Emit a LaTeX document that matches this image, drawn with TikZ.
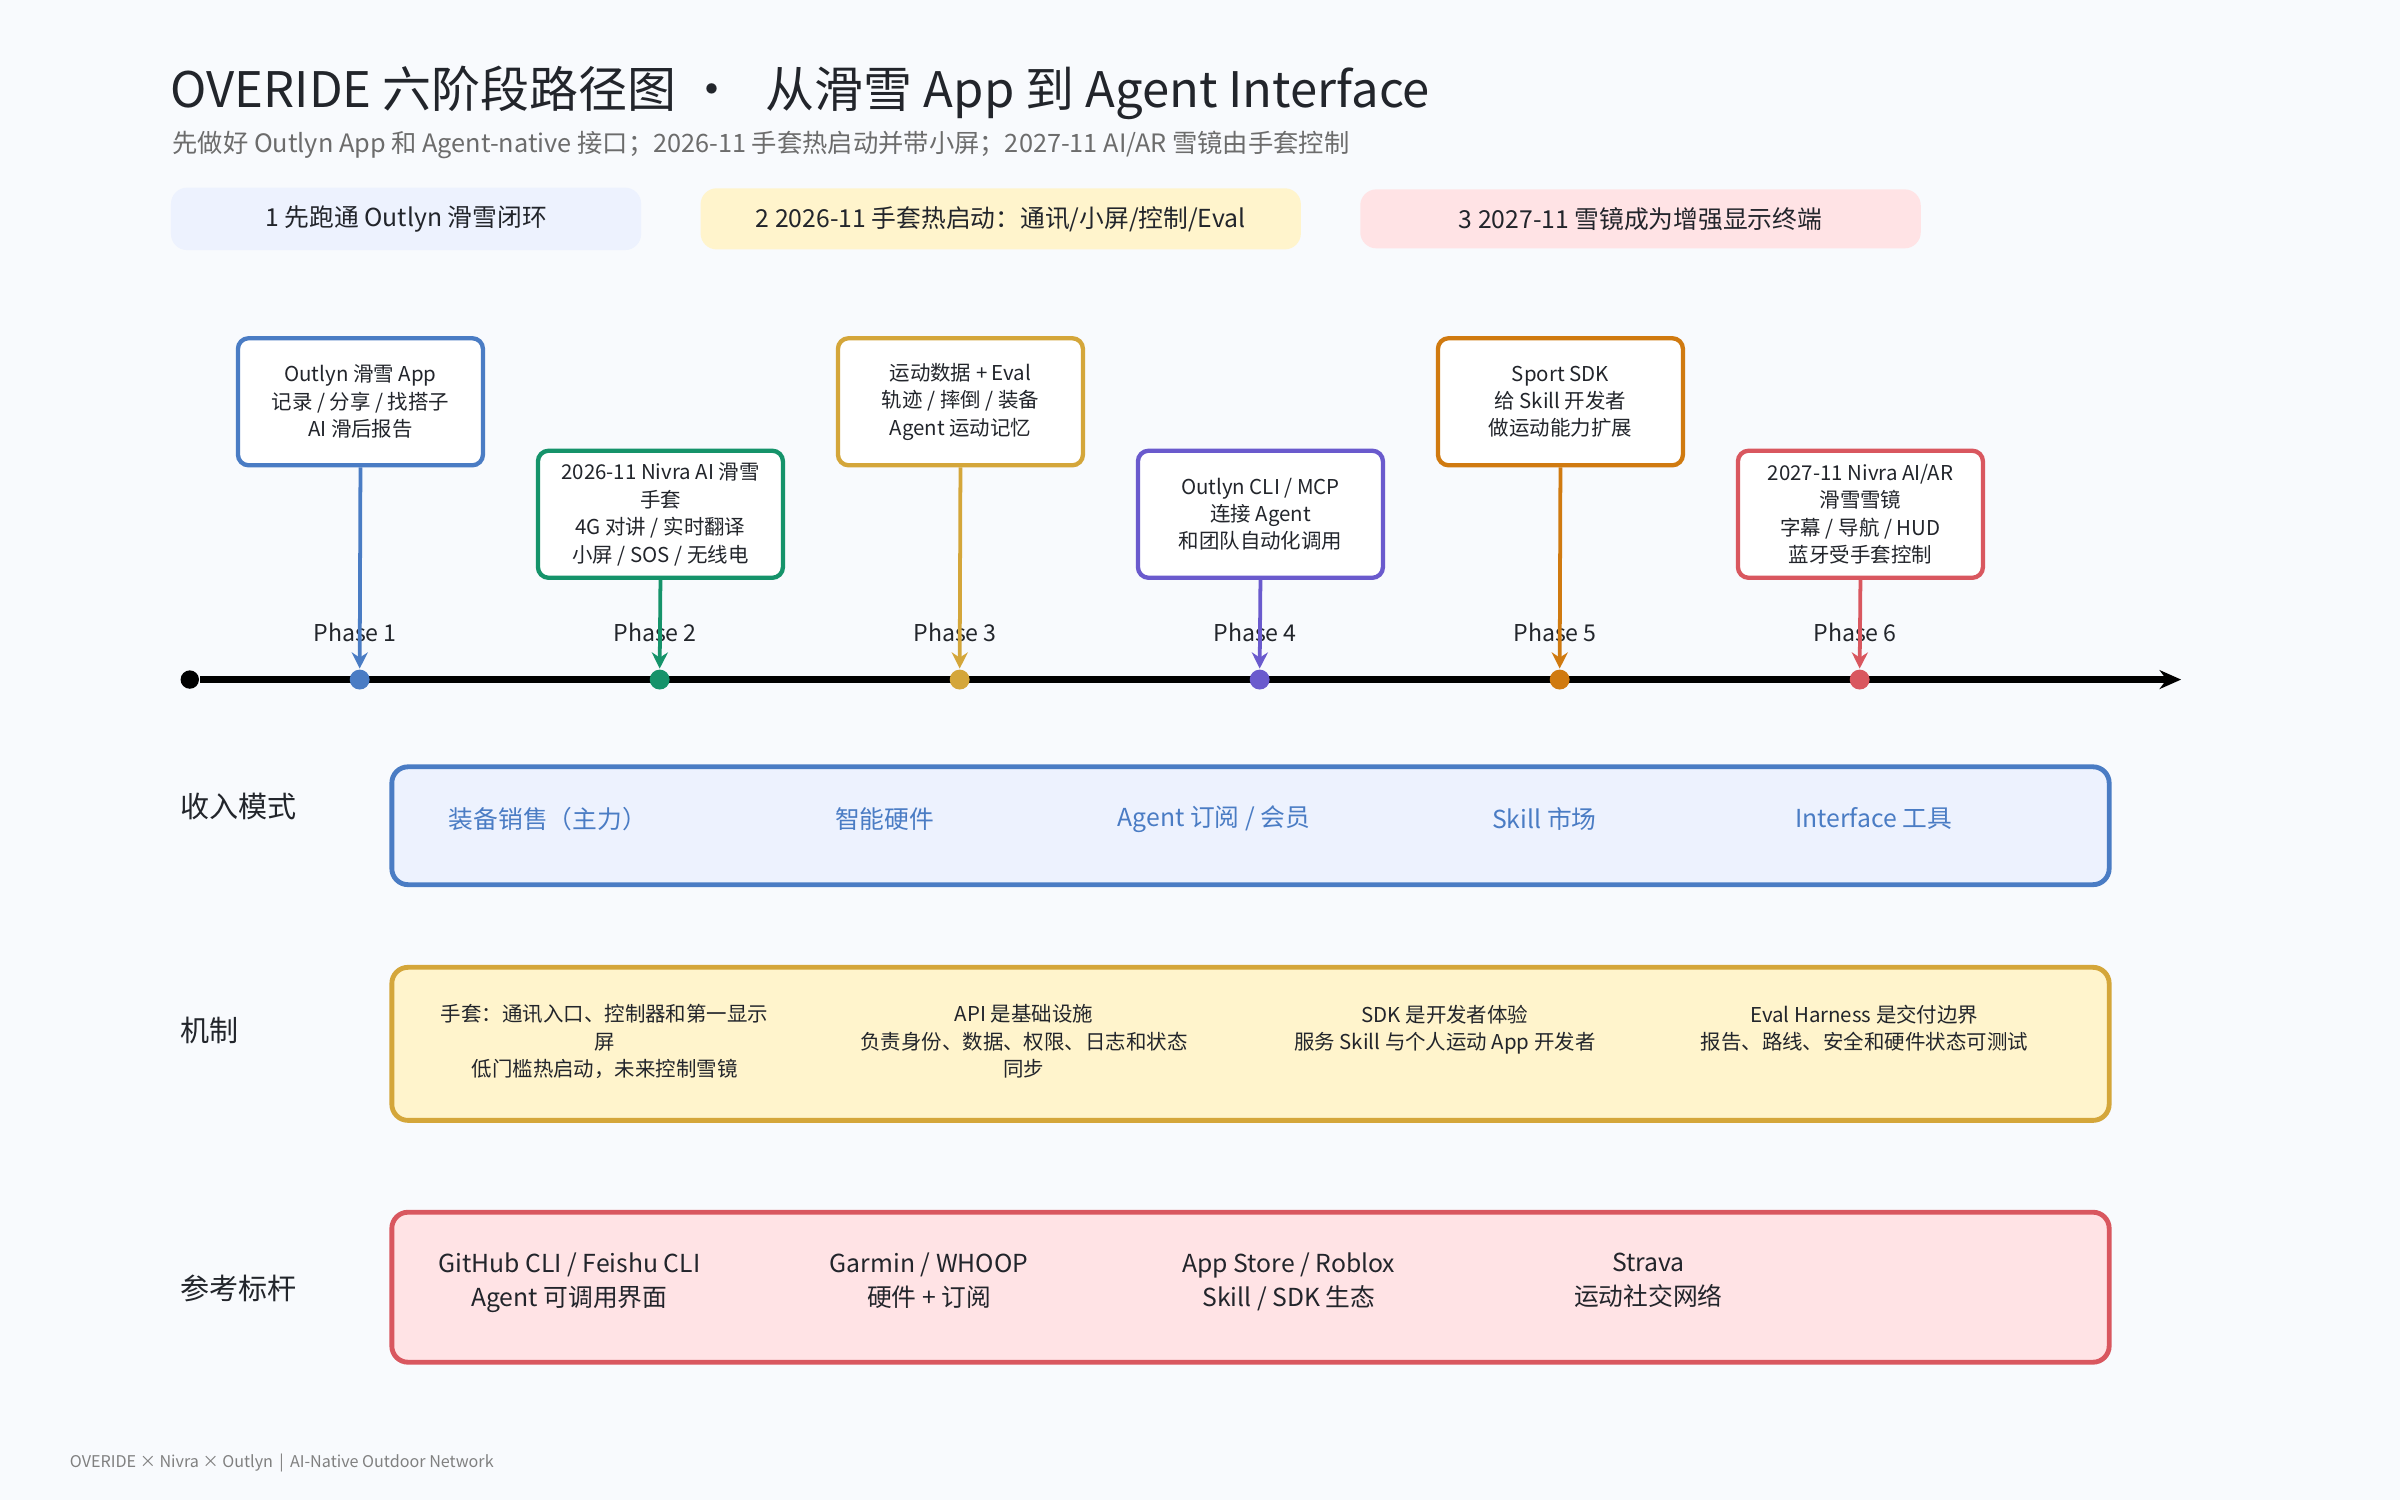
\documentclass[tikz,border=0pt]{standalone}
\usepackage{fontspec}
\setmainfont{Noto Sans CJK SC}
\usetikzlibrary{positioning, arrows.meta}
\definecolor{bgc}{HTML}{F8FAFD}
\definecolor{pblue}{HTML}{4A7CC4}
\definecolor{pgreen}{HTML}{15936A}
\definecolor{pgold}{HTML}{D4A63A}
\definecolor{ppurple}{HTML}{6A5ACD}
\definecolor{porange}{HTML}{D07A10}
\definecolor{pred}{HTML}{D9575F}
\definecolor{fblue}{HTML}{EDF2FE}
\definecolor{fyellow}{HTML}{FFF4CC}
\definecolor{fpink}{HTML}{FFE3E5}
\definecolor{ink}{HTML}{22252B}
\newcommand{\fs}[2]{\fontsize{#1}{#2}\selectfont}
\tikzset{
  band/.style={rounded corners=3pt, minimum height=0.38cm, anchor=west, text=ink, font=\fs{4.6pt}{5pt}},
  phasebox/.style={draw=#1, line width=0.8pt, fill=white, rounded corners=2pt, minimum width=1.6cm, minimum height=0.83cm, align=center, text=ink, font=\fs{3.8pt}{5.1pt}, inner sep=1pt},
  dot/.style={circle, fill=#1, inner sep=0pt, minimum size=0.13cm},
  drop/.style={#1, line width=0.7pt, -{Stealth[length=3pt,width=3pt]}},
  rowbox/.style={draw=#1, line width=0.9pt, rounded corners=3pt},
  rowlabel/.style={anchor=west, text=ink, font=\fs{5.4pt}{6pt}, inner sep=0pt},
  item/.style={align=center, text=#1, font=\fs{4.6pt}{6.3pt}},
  mech/.style={align=center, text=ink, font=\fs{3.8pt}{5.1pt}},
}
\begin{document}
\begin{tikzpicture}[x=0.01cm, y=-0.01cm]
\fill[bgc] (0,0) rectangle (1568,980);

% title
\node[anchor=west, text=ink, font=\fs{9.1pt}{10pt}, inner sep=0pt] (title) at (111,61) {OVERIDE 六阶段路径图 ·\hspace{0.6em}从滑雪 App 到 Agent Interface};
\node[anchor=west, text=gray!85!black, font=\fs{4.7pt}{5pt}, inner sep=0pt] (subtitle) at (112,95) {先做好 Outlyn App 和 Agent-native 接口；2026-11 手套热启动并带小屏；2027-11 AI/AR 雪镜由手套控制};

% stage bands
\node[band, fill=fblue, minimum width=3.07cm] (band1) at (111,143) {1 先跑通 Outlyn 滑雪闭环};
\node[band, fill=fyellow, minimum width=3.92cm] (band2) at (457,143) {2 2026-11 手套热启动：通讯/小屏/控制/Eval};
\node[band, fill=fpink, minimum width=3.66cm] (band3) at (888,143) {3 2027-11 雪镜成为增强显示终端};

% timeline
\node[circle, fill=black, inner sep=0pt, minimum size=0.12cm] (start) at (124,444) {};
\coordinate (tend) at (1425,444);
\draw[line width=1.4pt, -{Stealth[length=4pt,width=3.5pt]}] (start) -- (tend);

% phase boxes
\node[phasebox=pblue] (box1) at (235.5,262.5) {Outlyn 滑雪 App\\记录 / 分享 / 找搭子\\AI 滑后报告};
\node[phasebox=pgreen] (box2) at (431.5,336) {2026-11 Nivra AI 滑雪\\手套\\4G 对讲 / 实时翻译\\小屏 / SOS / 无线电};
\node[phasebox=pgold] (box3) at (627.5,262.5) {运动数据 + Eval\\轨迹 / 摔倒 / 装备\\Agent 运动记忆};
\node[phasebox=ppurple] (box4) at (823.5,336) {Outlyn CLI / MCP\\连接 Agent\\和团队自动化调用};
\node[phasebox=porange] (box5) at (1019.5,262.5) {Sport SDK\\给 Skill 开发者\\做运动能力扩展};
\node[phasebox=pred] (box6) at (1215.5,336) {2027-11 Nivra AI/AR\\滑雪雪镜\\字幕 / 导航 / HUD\\蓝牙受手套控制};

% dots, labels, drops
\foreach \i/\x/\c in {1/235/pblue, 2/431/pgreen, 3/627/pgold, 4/823/ppurple, 5/1019/porange, 6/1215/pred}{
  \node[dot=\c] (dot\i) at (\x,444) {};
  \node[text=ink, font=\fs{4.3pt}{5pt}] (ph\i) at (\x-3,413) {Phase \i};
  \draw[drop=\c] (box\i.south) -- (dot\i.north);
}

% revenue row
\draw[rowbox=pblue, fill=fblue] (256,501) rectangle (1378,578);
\node[rowlabel] (lrev) at (117,527) {收入模式};
\node[item=pblue] (rev1) at (358,535) {装备销售（主力）};
\node[item=pblue] (rev2) at (578,535) {智能硬件};
\node[item=pblue] (rev3) at (793,535) {Agent 订阅 / 会员};
\node[item=pblue] (rev4) at (1009,535) {Skill 市场};
\node[item=pblue] (rev5) at (1224,535) {Interface 工具};

% mechanism row
\draw[rowbox=pgold, fill=fyellow] (256,632) rectangle (1378,732);
\node[rowlabel] (lmech) at (117,673) {机制};
\node[mech, anchor=north] (mech1) at (395,644) {手套：通讯入口、控制器和第一显示\\屏\\低门槛热启动，未来控制雪镜};
\node[mech, anchor=north] (mech2) at (669,644) {API 是基础设施\\负责身份、数据、权限、日志和状态\\同步};
\node[mech, anchor=north] (mech3) at (944,644) {SDK 是开发者体验\\服务 Skill 与个人运动 App 开发者};
\node[mech, anchor=north] (mech4) at (1218,644) {Eval Harness 是交付边界\\报告、路线、安全和硬件状态可测试};

% reference row
\draw[rowbox=pred, fill=fpink] (256,792) rectangle (1378,890);
\node[rowlabel] (lref) at (117,842) {参考标杆};
\node[item=ink, anchor=north] (ref1) at (372,806) {GitHub CLI / Feishu CLI\\Agent 可调用界面};
\node[item=ink, anchor=north] (ref2) at (607,806) {Garmin / WHOOP\\硬件 + 订阅};
\node[item=ink, anchor=north] (ref3) at (842,806) {App Store / Roblox\\Skill / SDK 生态};
\node[item=ink, anchor=north] (ref4) at (1077,806) {Strava\\运动社交网络};

% footer
\node[anchor=west, text=gray, font=\fs{3pt}{3pt}, inner sep=0pt] (footer) at (45,956) {OVERIDE × Nivra × Outlyn \,|\, AI-Native Outdoor Network};
\end{tikzpicture}
\end{document}
